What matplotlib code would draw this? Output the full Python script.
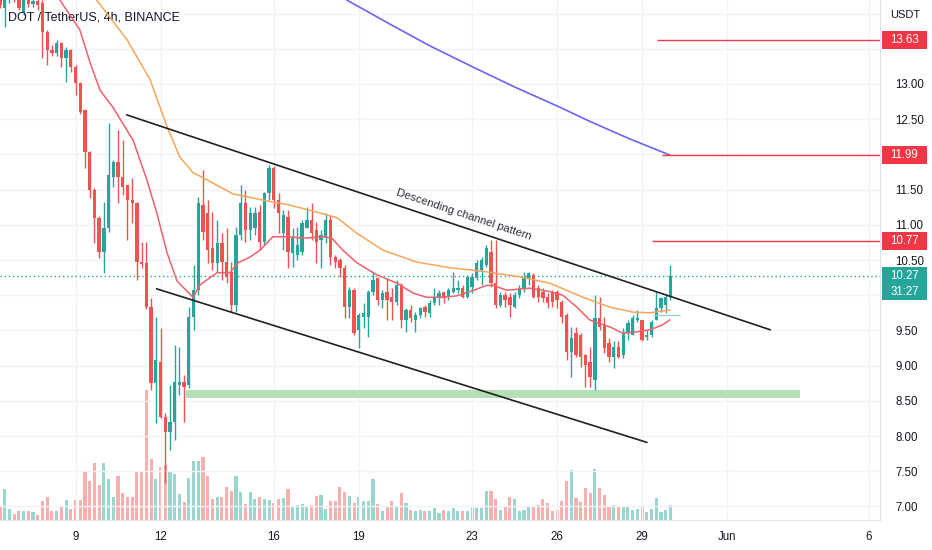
import matplotlib
matplotlib.use("Agg")
from matplotlib import pyplot as plt
from matplotlib import transforms
from matplotlib.patches import Rectangle

plt.rcParams['font.family'] = ['Liberation Sans', 'DejaVu Sans']

# 4h candles, bar 0 = May 6 08:00
opens = [14.25, 14.08, 14.19, 14.28, 14.22, 14.01, 14.19, 14.14, 14.18, 14.15,
         13.74, 13.48, 13.44, 13.58, 13.37, 13.48, 13.24, 13.01, 12.63, 12.03,
         11.49, 11.10, 10.61, 10.96, 11.68, 11.89, 11.68, 11.56, 11.35, 11.31,
         10.47, 10.46, 9.83, 8.75, 9.05, 8.27, 8.06, 8.20, 8.72, 8.77,
         8.72, 9.69, 10.07, 11.28, 11.17, 10.67, 10.46, 10.74, 10.47, 10.33,
         9.86, 10.85, 11.31, 10.93, 10.96, 11.18, 10.76, 11.45, 11.81, 11.35,
         10.88, 11.11, 10.60, 10.57, 10.61, 10.96, 11.07, 10.93, 10.78, 10.83,
         11.07, 10.54, 10.50, 10.39, 9.83, 10.07, 9.51, 9.69, 9.69, 10.05,
         10.24, 9.93, 10.05, 9.97, 9.90, 10.14, 9.65, 9.79, 9.65, 9.72,
         9.83, 9.75, 9.89, 9.96, 10.05, 9.97, 10.05, 10.07, 10.10, 9.97,
         10.12, 10.24, 10.36, 10.43, 10.61, 10.17, 9.86, 10.00, 9.97, 9.83,
         10.00, 10.10, 10.24, 10.29, 10.10, 10.05, 9.97, 10.05, 10.05, 9.90,
         9.72, 9.19, 9.46, 9.43, 9.15, 9.05, 8.80, 9.68, 9.58, 9.32,
         9.12, 9.26, 9.15, 9.46, 9.43, 9.65, 9.65, 9.41, 9.43, 9.65,
         9.82, 9.86, 9.97]
highs = [14.30, 14.25, 14.33, 14.35, 14.26, 14.24, 14.22, 14.22, 14.21, 14.19,
         13.76, 13.55, 13.62, 13.60, 13.52, 13.50, 13.27, 13.03, 12.65, 12.05,
         11.52, 11.12, 11.32, 12.45, 11.92, 12.35, 12.20, 11.56, 11.66, 11.33,
         10.76, 10.76, 9.96, 9.69, 9.53, 8.33, 8.72, 9.29, 9.26, 8.87,
         9.83, 10.43, 11.39, 11.78, 11.35, 11.18, 11.07, 10.88, 10.96, 10.47,
         10.97, 11.56, 11.49, 11.25, 11.25, 11.28, 11.47, 11.85, 11.83, 11.45,
         11.21, 11.21, 10.96, 10.97, 11.07, 11.25, 11.31, 11.04, 10.93, 11.17,
         11.14, 10.57, 10.53, 10.43, 10.12, 10.10, 9.75, 9.89, 10.07, 10.33,
         10.26, 10.07, 10.24, 10.10, 10.22, 10.17, 9.82, 9.86, 9.76, 9.83,
         9.86, 9.93, 10.10, 10.07, 10.05, 10.10, 10.33, 10.22, 10.14, 10.29,
         10.32, 10.50, 10.54, 10.71, 10.78, 10.78, 10.05, 10.05, 10.03, 10.05,
         10.14, 10.33, 10.33, 10.32, 10.14, 10.10, 10.03, 10.07, 10.07, 9.93,
         9.75, 9.55, 9.55, 9.46, 9.17, 9.26, 10.00, 9.97, 9.69, 9.39,
         9.35, 9.35, 9.53, 9.65, 9.72, 9.79, 9.65, 9.51, 9.65, 10.05,
         9.97, 10.00, 10.43]
lows = [14.08, 13.81, 14.15, 14.17, 14.05, 13.98, 14.10, 14.10, 14.05, 13.37,
        13.27, 13.40, 13.40, 13.24, 13.03, 13.17, 12.84, 12.58, 11.81, 11.38,
        10.74, 10.53, 10.32, 10.90, 11.54, 11.31, 11.42, 10.78, 11.03, 10.22,
        10.39, 9.80, 8.65, 8.18, 8.25, 7.33, 7.80, 7.94, 8.58, 8.20,
        8.68, 9.51, 10.00, 10.78, 10.46, 10.36, 10.33, 10.22, 10.17, 9.76,
        9.76, 10.78, 10.76, 10.78, 10.85, 10.64, 10.71, 11.35, 11.24, 10.88,
        10.64, 10.39, 10.40, 10.50, 10.57, 10.96, 10.78, 10.46, 10.39, 10.74,
        10.43, 10.39, 10.26, 9.68, 9.68, 9.43, 9.25, 9.53, 9.41, 10.00,
        9.86, 9.82, 9.65, 9.65, 9.86, 9.53, 9.48, 9.62, 9.48, 9.68,
        9.69, 9.69, 9.86, 9.86, 9.89, 9.93, 10.03, 10.03, 9.96, 9.96,
        10.03, 10.22, 10.14, 10.40, 10.12, 9.82, 9.83, 9.83, 9.69, 9.82,
        9.96, 10.05, 10.14, 9.96, 9.90, 9.90, 9.82, 9.83, 9.82, 9.61,
        9.08, 8.84, 9.12, 8.98, 8.70, 8.70, 8.65, 9.51, 9.18, 9.05,
        8.97, 9.11, 9.11, 9.36, 9.43, 9.62, 9.35, 9.36, 9.41, 9.65,
        9.76, 9.75, 9.93]
closes = [14.12, 14.19, 14.28, 14.22, 14.08, 14.19, 14.14, 14.18, 14.12, 13.74,
          13.48, 13.44, 13.58, 13.37, 13.48, 13.24, 13.01, 12.60, 12.03, 11.49,
          11.10, 10.61, 10.96, 11.71, 11.89, 11.68, 11.54, 11.35, 11.31, 10.47,
          10.44, 9.83, 8.75, 9.08, 8.27, 8.06, 8.20, 8.77, 8.77, 8.70,
          9.69, 10.07, 11.31, 10.90, 10.64, 10.46, 10.74, 10.47, 10.26, 9.86,
          10.85, 11.31, 10.93, 11.17, 11.17, 10.76, 11.45, 11.81, 11.35, 11.17,
          11.14, 10.61, 10.81, 10.71, 11.03, 11.07, 10.88, 10.76, 10.85, 11.07,
          10.54, 10.47, 10.39, 9.83, 10.07, 9.46, 9.72, 9.75, 10.05, 10.22,
          9.93, 10.03, 9.93, 9.90, 10.14, 9.65, 9.79, 9.68, 9.72, 9.82,
          9.76, 9.89, 9.97, 10.03, 9.97, 10.07, 10.10, 10.10, 9.97, 10.26,
          10.26, 10.46, 10.50, 10.67, 10.17, 9.86, 10.00, 9.93, 9.86, 10.00,
          10.10, 10.26, 10.32, 9.97, 9.97, 9.96, 9.89, 9.90, 9.93, 9.69,
          9.19, 9.39, 9.15, 9.12, 9.01, 8.84, 9.68, 9.55, 9.25, 9.12,
          9.26, 9.12, 9.48, 9.61, 9.68, 9.68, 9.36, 9.43, 9.62, 9.82,
          9.96, 9.97, 10.27]
volumes = [14, 31, 11, 6, 9, 9, 9, 8, 5, 19,
           23, 9, 9, 13, 20, 11, 20, 20, 49, 39,
           57, 35, 57, 41, 23, 44, 27, 23, 23, 49,
           48, 130, 61, 41, 53, 55, 48, 46, 26, 18,
           42, 59, 59, 63, 44, 21, 23, 23, 33, 29,
           44, 28, 16, 28, 21, 23, 21, 20, 17, 21,
           22, 31, 13, 15, 16, 13, 15, 24, 25, 11,
           19, 19, 33, 28, 24, 17, 23, 19, 19, 41,
           16, 9, 13, 19, 13, 27, 17, 10, 9, 10,
           9, 9, 12, 7, 10, 9, 12, 9, 9, 9,
           13, 12, 12, 29, 29, 21, 10, 13, 23, 21,
           9, 10, 13, 14, 15, 21, 17, 9, 10, 19,
           39, 50, 22, 18, 32, 27, 51, 32, 25, 13,
           15, 14, 13, 14, 10, 11, 14, 8, 11, 22,
           8, 10, 15]

# moving averages (bar position, price)
ma_fast_x = [12.7, 16.9, 19.1, 21.2, 23.9, 28.2, 31.1, 33.2, 35.4, 37.5, 40.9, 42.4, 46.0, 48.7,
             50.4, 52.9, 55.1, 57.8, 61.4, 64.2, 68.4, 70.3, 72.6, 75.6, 79.8, 84.1, 87.5, 90.4,
             93.8, 96.7, 99.5, 103.1, 104.4, 107.4, 112.2, 116.5, 119.2, 122.2, 124.9, 126.4,
             129.2, 131.9, 134.9, 137.7, 140.4, 141.9]
ma_fast_y = [14.19, 13.77, 13.30, 12.91, 12.67, 12.20, 11.64, 11.17, 10.60, 10.20, 9.97, 10.15, 10.32, 10.32,
             10.46, 10.54, 10.64, 10.83, 10.83, 10.81, 10.83, 10.81, 10.64, 10.46, 10.29, 10.17, 10.03, 9.97,
             9.97, 9.99, 10.05, 10.14, 10.14, 10.07, 10.10, 10.05, 10.00, 9.83, 9.65, 9.61,
             9.55, 9.46, 9.48, 9.51, 9.58, 9.65]
ma_mid_x = [20.5, 26.9, 31.8, 35.4, 38.1, 40.9, 43.8, 49.3, 56.5, 61.4, 67.1, 71.4, 75.6, 81.1,
            88.3, 95.3, 99.5, 104.4, 110.1, 116.5, 123.5, 129.2, 134.1, 137.7, 141.9]
ma_mid_y = [14.19, 13.63, 13.06, 12.39, 11.96, 11.74, 11.64, 11.44, 11.34, 11.28, 11.18, 11.10, 10.88, 10.64,
            10.47, 10.39, 10.36, 10.32, 10.26, 10.17, 9.97, 9.83, 9.76, 9.75, 9.79]
ma_slow_x = [73.5, 76.2, 82.6, 91.1, 100.2, 108.6, 118.6, 124.9, 133.4, 141.9]
ma_slow_y = [14.19, 14.09, 13.85, 13.54, 13.24, 12.97, 12.67, 12.47, 12.22, 11.99]

# channel (x in bars, price)
upper_x, upper_y = [26.9, 163.1], [12.56, 9.51]
lower_x, lower_y = [33.2, 137.0], [10.09, 7.91]

levels = [13.63, 11.99, 10.77]
levels_start = [139.1, 140.2, 138.1]
last_price = 10.27
support_zone = (39.4, 169.4, 8.54, 8.65)

day_ticks = [9, 12, 16, 19, 23, 26, 29, 32, 37]
day_labels = ['9', '12', '16', '19', '23', '26', '29', 'Jun', '6']
price_ticks = [7.0, 7.5, 8.0, 8.5, 9.0, 9.5, 10.0, 10.5, 11.0, 11.5, 12.0, 12.5, 13.0, 13.5, 14.0]
hidden_ticks = [10.0, 12.0, 13.5, 14.0]

UP = '#26a69a'
DOWN = '#ef5350'
TXT = '#131722'

fig = plt.figure(figsize=(9.32, 5.5), dpi=100)
rect = [0, 30 / 550, 880 / 932, 520 / 550]
axv = fig.add_axes(rect)
ax = fig.add_axes(rect, sharex=axv)
ax.patch.set_alpha(0)

n = len(closes)
idx = list(range(n))
up = [c >= o for o, c in zip(opens, closes)]

# volume
axv.bar(idx, volumes, width=0.66, color=['#9ad6d0' if u else '#f8b0ae' for u in up], linewidth=0)
axv.set_ylim(0, max(volumes) * 4)
axv.set_yticks([])
axv.tick_params(axis='x', bottom=False, labelbottom=False)
for s in axv.spines.values():
    s.set_visible(False)

# grid
for p in price_ticks:
    ax.axhline(p, color='#f0f3fa', lw=1, zorder=0)
bar_ticks = [(d - 6.3333) * 6 for d in day_ticks]
for t in bar_ticks:
    ax.axvline(t, color='#f0f3fa', lw=1, zorder=0)

# candles
cols = [UP if u else DOWN for u in up]
ax.vlines(idx, lows, highs, colors=cols, lw=1, zorder=3)
bodies = [max(abs(c - o), 0.015) for o, c in zip(opens, closes)]
ax.bar(idx, bodies, bottom=[min(o, c) for o, c in zip(opens, closes)], width=0.7,
       color=cols, linewidth=0, zorder=3)

# moving averages
ax.plot(ma_fast_x, ma_fast_y, color='#f0606c', lw=1.1, zorder=4)
ax.plot(ma_mid_x, ma_mid_y, color='#f9a65a', lw=1.1, zorder=4)
ax.plot(ma_slow_x, ma_slow_y, color='#6c63f0', lw=1.2, zorder=4)

# drawings
ax.plot(upper_x, upper_y, color='#202020', lw=1.2, zorder=5)
ax.plot(lower_x, lower_y, color='#202020', lw=1.2, zorder=5)
ax.text(98.3, 11.15, 'Descending channel pattern', rotation=-18.4, fontsize=8.2,
        color='#2a2e39', ha='center', va='center', rotation_mode='anchor', zorder=6)
ax.add_patch(Rectangle((support_zone[0], support_zone[2]), support_zone[1] - support_zone[0],
                       support_zone[3] - support_zone[2], facecolor='#b5dfb7', edgecolor='none', zorder=2))
ax.hlines(levels, levels_start, 187, colors='#f23645', lw=1, zorder=5)
ax.hlines(9.72, 138.3, 144.0, colors='#9ad3cd', lw=1, zorder=5)
ax.axhline(last_price, color=UP, lw=1, ls=(0, (1, 2)), zorder=2)

ax.set_xlim(0, 186.4)
ax.set_ylim(6.807, 14.193)

ax.set_xticks(bar_ticks)
ax.set_xticklabels(day_labels)
ax.set_yticks(price_ticks)
ax.set_yticklabels(['' if p in hidden_ticks else f'{p:.2f}' for p in price_ticks])
ax.yaxis.tick_right()
ax.tick_params(axis='both', length=0, labelsize=8.3, labelcolor=TXT)
ax.tick_params(axis='y', pad=11)
ax.tick_params(axis='x', pad=8)
for side in ['top', 'left']:
    ax.spines[side].set_visible(False)
ax.spines['right'].set_color('#e0e3eb')
ax.spines['bottom'].set_color('#e0e3eb')

ax.text(8 / 880, 1 - 18 / 520, 'DOT / TetherUS, 4h, BINANCE', transform=ax.transAxes,
        fontsize=9, color=TXT, ha='left', va='center')
ax.text(890 / 880, 1 - 15 / 520, 'USDT', transform=ax.transAxes, fontsize=8,
        color=TXT, ha='left', va='center')

# price labels on the scale
tr = transforms.blended_transform_factory(ax.transAxes, ax.transData)
box_h = 18 / 70.4
for lv in levels:
    ax.add_patch(Rectangle((882 / 880, lv - box_h / 2), 45 / 880, box_h, transform=tr,
                           facecolor='#f23645', edgecolor='none', clip_on=False, zorder=7))
    ax.text(904.5 / 880, lv, f'{lv:.2f}', transform=tr, color='white', fontsize=8.3,
            ha='center', va='center', clip_on=False, zorder=8)
ax.add_patch(Rectangle((882 / 880, last_price - 24 / 70.4), 45 / 880, 33 / 70.4, transform=tr,
                       facecolor=UP, edgecolor='none', clip_on=False, zorder=7))
ax.text(904.5 / 880, last_price, f'{last_price:.2f}', transform=tr, color='white', fontsize=8.3,
        ha='center', va='center', clip_on=False, zorder=8)
ax.text(904.5 / 880, last_price - 16 / 70.4, '31:27', transform=tr, color='white', fontsize=8.3,
        ha='center', va='center', clip_on=False, zorder=8)

fig.savefig('out.png', dpi=100)
